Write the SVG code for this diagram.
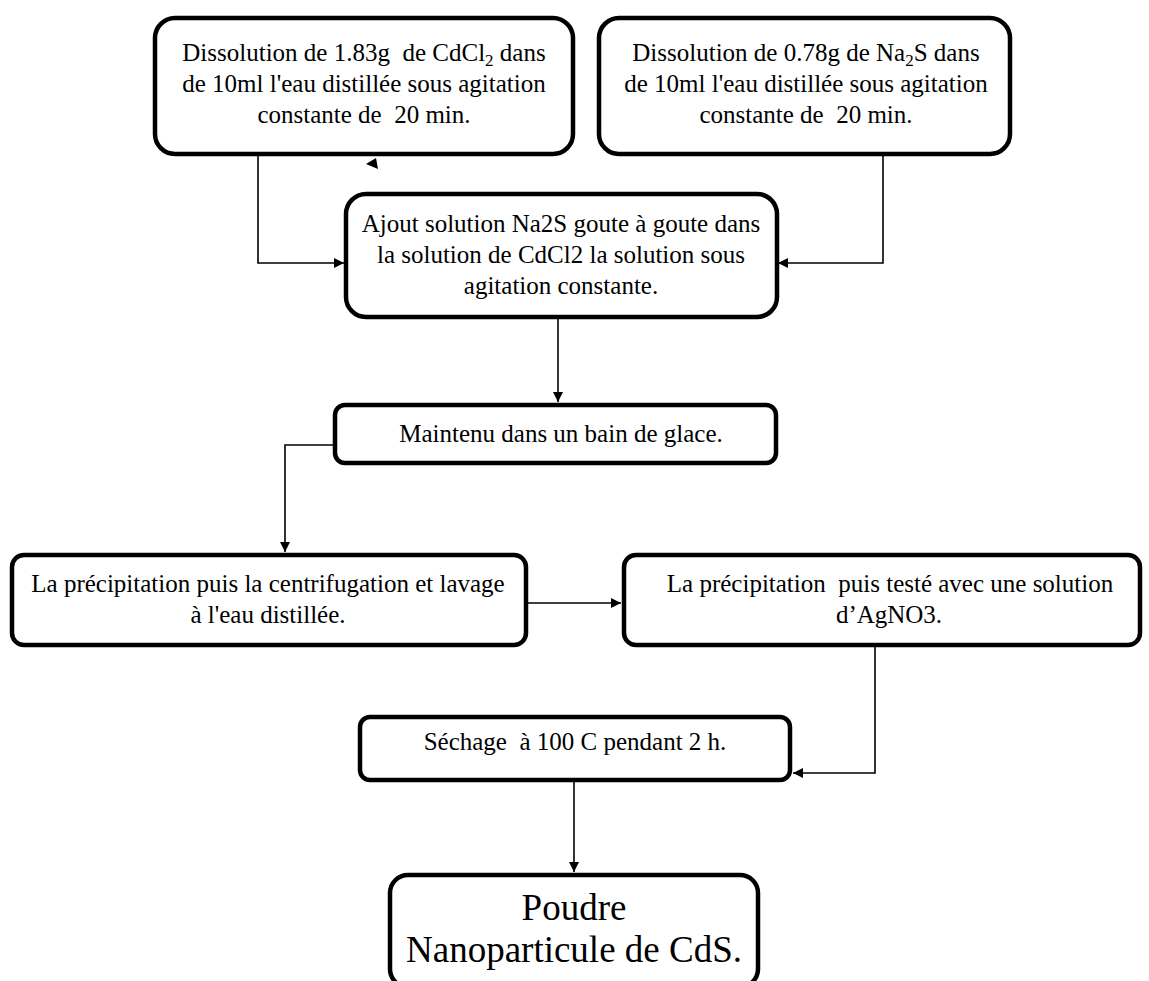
<svg xmlns="http://www.w3.org/2000/svg" width="1149" height="981" viewBox="0 0 1149 981">
<defs>
<style>
.box{fill:#fff;stroke:#000;stroke-width:4.5}
.t{font-family:"Liberation Serif","Times New Roman",serif;font-size:25px;fill:#000;text-anchor:middle;white-space:pre}
.big{font-size:37px}
.c{fill:none;stroke:#000;stroke-width:1.6}
</style>
<marker id="ah" viewBox="0 0 10 10" refX="10" refY="5" markerWidth="10" markerHeight="10" markerUnits="userSpaceOnUse" orient="auto">
<path d="M0,0 L10,5 L0,10 Z" fill="#000"/>
</marker>
</defs>
<rect width="1149" height="981" fill="#fff"/>
<g id="connectors">
<polyline class="c" points="258,156 258,263 344,263" marker-end="url(#ah)"/>
<polyline class="c" points="883,156 883,263 778,263" marker-end="url(#ah)"/>
<polyline class="c" points="558,318 558,402" marker-end="url(#ah)"/>
<polyline class="c" points="333,445 285,445 285,552" marker-end="url(#ah)"/>
<polyline class="c" points="527,603 621,603" marker-end="url(#ah)"/>
<polyline class="c" points="875,647 875,773 793,773" marker-end="url(#ah)"/>
<polyline class="c" points="574,782 574,872" marker-end="url(#ah)"/>
<polygon points="366,164 376,158 378,169" fill="#000"/>
</g>
<g id="n1">
<rect class="box" x="155" y="18" width="418" height="136" rx="20"/>
<text class="t" x="364" y="61">Dissolution de 1.83g  de CdCl<tspan font-size="17" dy="5">2</tspan><tspan dy="-5"> dans</tspan></text>
<text class="t" x="364" y="92">de 10ml l'eau distillée sous agitation</text>
<text class="t" x="364" y="123">constante de  20 min.</text>
</g>
<g id="n2">
<rect class="box" x="599" y="18" width="411" height="136" rx="20"/>
<text class="t" x="806" y="61">Dissolution de 0.78g de Na<tspan font-size="17" dy="5">2</tspan><tspan dy="-5">S dans</tspan></text>
<text class="t" x="806" y="92">de 10ml l'eau distillée sous agitation</text>
<text class="t" x="806" y="123">constante de  20 min.</text>
</g>
<g id="n3">
<rect class="box" x="346" y="194" width="431" height="123" rx="20"/>
<text class="t" x="561" y="232">Ajout solution Na2S goute à goute dans</text>
<text class="t" x="561" y="263">la solution de CdCl2 la solution sous</text>
<text class="t" x="561" y="294">agitation constante.</text>
</g>
<g id="n4">
<rect class="box" x="335" y="405" width="441" height="58" rx="10"/>
<text class="t" x="561" y="442">Maintenu dans un bain de glace.</text>
</g>
<g id="n5">
<rect class="box" x="12" y="555" width="514" height="90" rx="12"/>
<text class="t" x="268" y="592">La précipitation puis la centrifugation et lavage</text>
<text class="t" x="268" y="623">à l'eau distillée.</text>
</g>
<g id="n6">
<rect class="box" x="624" y="555" width="516" height="90" rx="12"/>
<text class="t" x="890" y="592">La précipitation  puis testé avec une solution</text>
<text class="t" x="889" y="623">d’AgNO3.</text>
</g>
<g id="n7">
<rect class="box" x="360" y="717" width="430" height="63" rx="10"/>
<text class="t" x="575" y="750">Séchage  à 100 C pendant 2 h.</text>
</g>
<g id="n8">
<rect class="box" x="390" y="875" width="368" height="112" rx="18"/>
<text class="t big" x="574" y="920">Poudre</text>
<text class="t big" x="574" y="962">Nanoparticule de CdS.</text>
</g>
</svg>
